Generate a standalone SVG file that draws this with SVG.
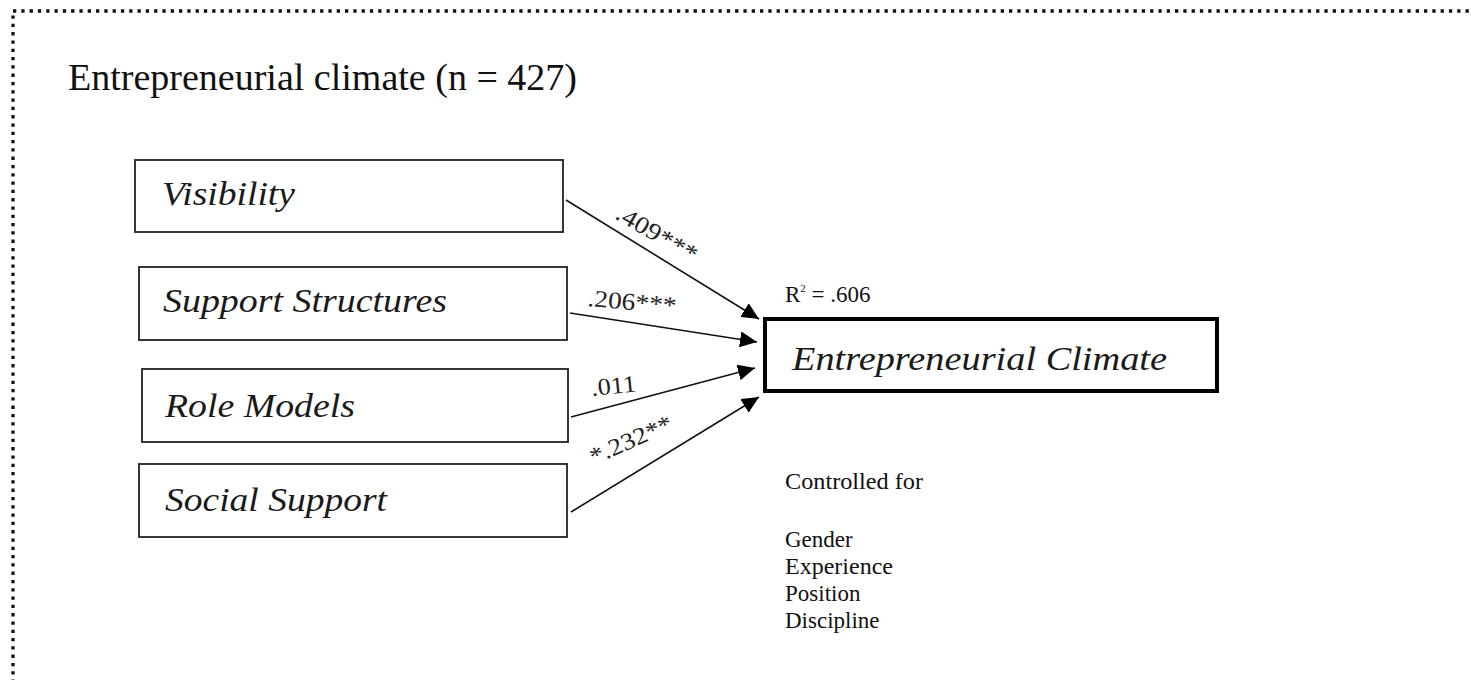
<svg xmlns="http://www.w3.org/2000/svg" width="1471" height="680" viewBox="0 0 1471 680">
<style>
.frame{fill:none;stroke:#111;stroke-width:3.3;stroke-dasharray:3.3 5;}
.box{fill:#fff;stroke:#222;stroke-width:1.8;}
.outbox{fill:#fff;stroke:#000;stroke-width:4;}
.nodetxt{font-family:"Liberation Serif",serif;font-style:italic;font-size:33px;fill:#1a1a1a;}
.title{font-family:"Liberation Serif",serif;font-size:37px;fill:#111;}
.lbl{font-family:"Liberation Serif",serif;font-size:24px;fill:#222;}
.note{font-family:"Liberation Serif",serif;font-size:23px;fill:#111;}
.conn{stroke:#111;stroke-width:1.6;fill:none;marker-end:url(#arr);}
</style>
<defs>
<marker id="arr" markerUnits="userSpaceOnUse" markerWidth="18" markerHeight="16" refX="17" refY="8" orient="auto">
<path d="M0,0 L17,8 L0,16 z" fill="#000"/>
</marker>
</defs>
<rect class="frame" x="13" y="11" width="1500" height="720"/>
<text class="title" x="68" y="90" textLength="509" lengthAdjust="spacingAndGlyphs">Entrepreneurial climate (n = 427)</text>
<g id="connectors">
<line class="conn" x1="566" y1="200" x2="759" y2="319"/>
<line class="conn" x1="570" y1="313" x2="757" y2="342"/>
<line class="conn" x1="571" y1="417" x2="755" y2="368"/>
<line class="conn" x1="571" y1="512" x2="759" y2="397"/>
<text class="lbl" transform="translate(614,218) rotate(30)" textLength="90" lengthAdjust="spacingAndGlyphs">.409***</text>
<text class="lbl" transform="translate(587,306) rotate(5)" textLength="89" lengthAdjust="spacingAndGlyphs">.206***</text>
<text class="lbl" transform="translate(592,396) rotate(-6)" textLength="45" lengthAdjust="spacingAndGlyphs">.011</text>
<text class="lbl" transform="translate(594,465) rotate(-24)" textLength="88" lengthAdjust="spacingAndGlyphs">*.232**</text>
</g>
<g id="node-visibility">
<rect class="box" x="135" y="160" width="428" height="72"/>
<text class="nodetxt" x="162" y="205" textLength="133" lengthAdjust="spacingAndGlyphs">Visibility</text>
</g>
<g id="node-support-structures">
<rect class="box" x="139" y="267" width="428" height="73"/>
<text class="nodetxt" x="163" y="312" textLength="284" lengthAdjust="spacingAndGlyphs">Support Structures</text>
</g>
<g id="node-role-models">
<rect class="box" x="142" y="369" width="426" height="73"/>
<text class="nodetxt" x="165" y="417" textLength="190" lengthAdjust="spacingAndGlyphs">Role Models</text>
</g>
<g id="node-social-support">
<rect class="box" x="139" y="464" width="428" height="73"/>
<text class="nodetxt" x="165" y="511" textLength="222" lengthAdjust="spacingAndGlyphs">Social Support</text>
</g>
<g id="node-entrepreneurial-climate">
<rect class="outbox" x="765" y="319" width="452" height="72"/>
<text class="nodetxt" x="792" y="370" textLength="375" lengthAdjust="spacingAndGlyphs">Entrepreneurial Climate</text>
</g>
<text class="note" x="785" y="302" font-size="25">R<tspan font-size="11" dy="-10">2</tspan><tspan dy="10"> = .606</tspan></text>
<g id="controls">
<text class="note" x="785" y="489" textLength="138" lengthAdjust="spacingAndGlyphs">Controlled for</text>
<text class="note" x="785" y="547">Gender</text>
<text class="note" x="785" y="574" textLength="108" lengthAdjust="spacingAndGlyphs">Experience</text>
<text class="note" x="785" y="601">Position</text>
<text class="note" x="785" y="628">Discipline</text>
</g>
</svg>
